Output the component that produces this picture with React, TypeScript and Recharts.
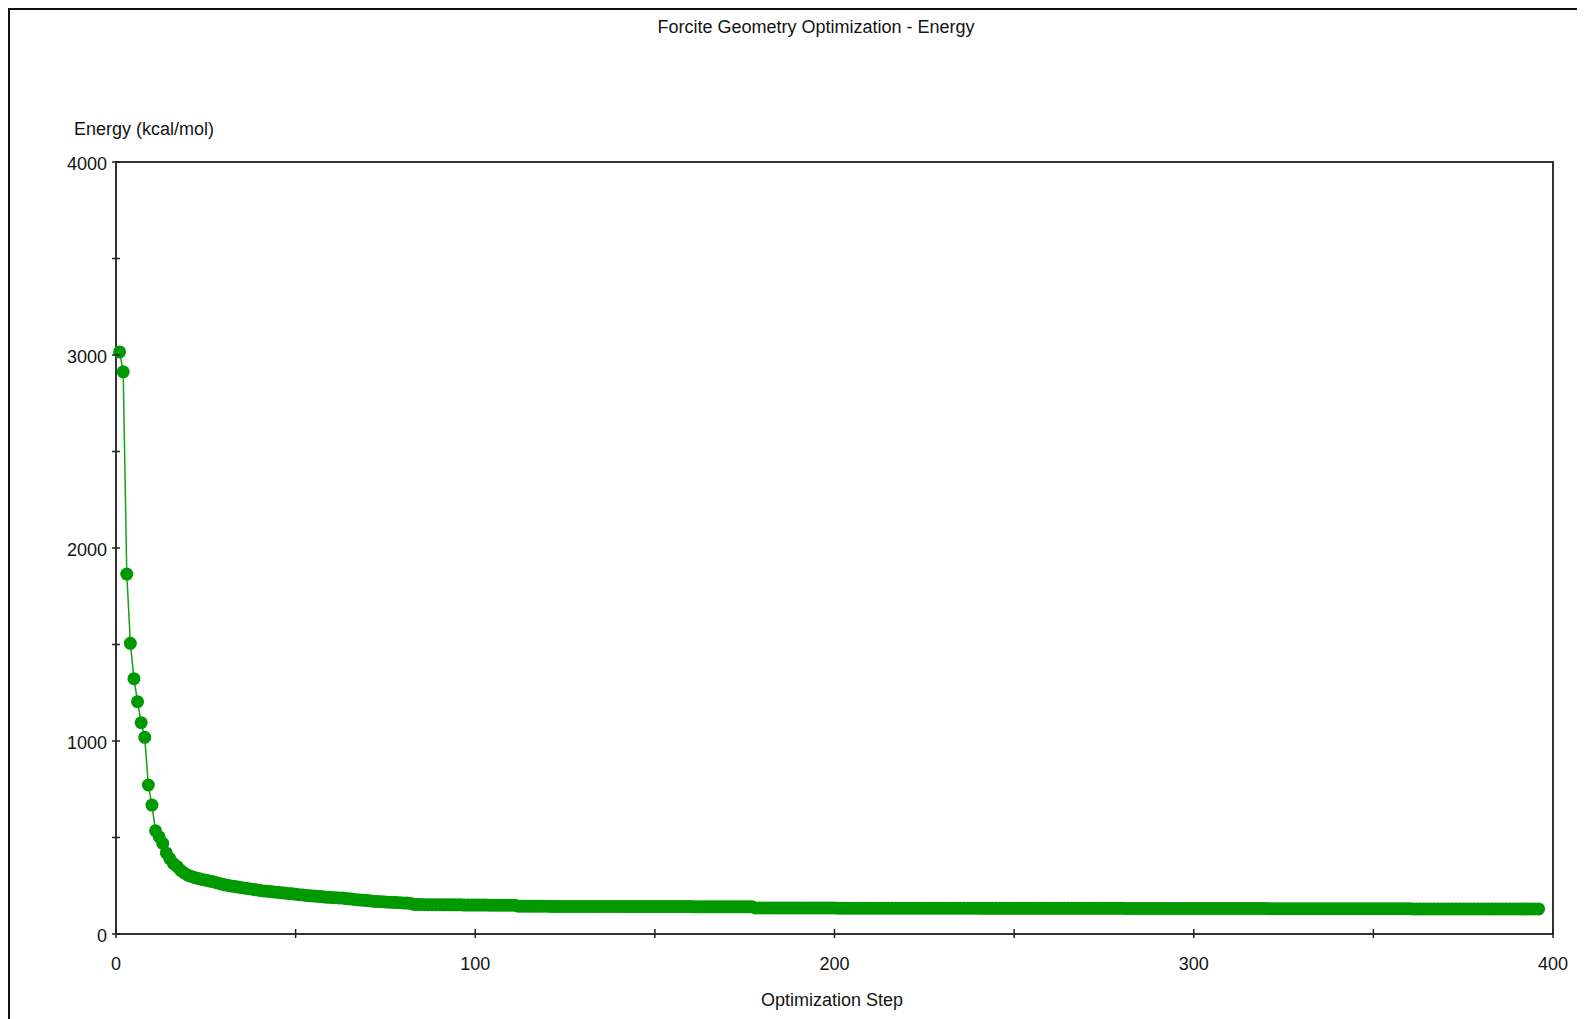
import React from 'react';
import { LineChart, Line, XAxis, YAxis, ReferenceArea } from 'recharts';

// energy per optimization step, steps start at 1
const energy = [
  3016, 2913, 1865, 1506, 1323, 1204, 1095, 1019, 772, 668, 535, 504, 470, 420, 390, 365, 350, 330, 316, 305,
  298, 292, 287, 283, 279, 275, 271, 266, 261, 256, 252, 249, 246, 243, 240, 237, 235, 232, 229, 226,
  223, 222, 220, 218, 216, 214, 212, 210, 208, 206, 204, 202, 200, 198, 197, 195, 194, 192, 190, 189,
  188, 187, 186, 184, 182, 180, 178, 176, 175, 173, 171, 169, 168, 167, 166, 165, 164, 163, 162, 161,
  160, 158, 153, 153, 153, 152, 152, 152, 152, 152, 151, 151, 151, 151, 151, 151, 150, 150, 150, 150,
  150, 150, 150, 149, 149, 149, 149, 149, 149, 149, 149, 144, 144, 144, 144, 144, 144, 144, 144, 144,
  143, 143, 143, 143, 143, 143, 143, 143, 143, 143, 143, 143, 143, 143, 143, 143, 143, 143, 143, 143,
  142, 142, 142, 142, 142, 142, 142, 142, 142, 142, 142, 142, 142, 142, 142, 142, 142, 142, 142, 142,
  141, 141, 141, 141, 141, 141, 141, 141, 141, 141, 141, 141, 141, 141, 141, 141, 141, 135, 135, 135,
  135, 135, 135, 135, 135, 135, 135, 135, 135, 135, 135, 135, 135, 135, 135, 135, 135, 135, 135, 135,
  134, 134, 134, 134, 134, 134, 134, 134, 134, 134, 134, 134, 134, 134, 134, 134, 134, 134, 134, 134,
  134, 134, 134, 134, 134, 134, 134, 134, 134, 134, 134, 134, 134, 134, 134, 134, 134, 134, 134, 134,
  133, 133, 133, 133, 133, 133, 133, 133, 133, 133, 133, 133, 133, 133, 133, 133, 133, 133, 133, 133,
  133, 133, 133, 133, 133, 133, 133, 133, 133, 133, 133, 133, 133, 133, 133, 133, 133, 133, 133, 133,
  132, 132, 132, 132, 132, 132, 132, 132, 132, 132, 132, 132, 132, 132, 132, 132, 132, 132, 132, 132,
  132, 132, 132, 132, 132, 132, 132, 132, 132, 132, 132, 132, 132, 132, 132, 132, 132, 132, 132, 132,
  131, 131, 131, 131, 131, 131, 131, 131, 131, 131, 131, 131, 131, 131, 131, 131, 131, 131, 131, 131,
  131, 131, 131, 131, 131, 131, 131, 131, 131, 131, 131, 131, 131, 131, 131, 131, 131, 131, 131, 131,
  130, 130, 130, 130, 130, 130, 130, 130, 130, 130, 130, 130, 130, 130, 130, 130, 130, 130, 130, 130,
  130, 130, 130, 130, 130, 130, 130, 130, 130, 130, 130, 130, 130, 130, 130, 130,
];

const xTicks = [0, 50, 100, 150, 200, 250, 300, 350, 400];
const xLabelled = [0, 100, 200, 300, 400];
const yTicks = [0, 500, 1000, 1500, 2000, 2500, 3000, 3500, 4000];
const yLabelled = [0, 1000, 2000, 3000, 4000];

const data = energy.map((e, i) => ({ step: i + 1, energy: e }));

const W = 1577;
const H = 1011;
const FONT = '"Liberation Sans", Arial, sans-serif';
const INK = '#141414';
const GREEN = '#009900';

function YTick(props: any) {
  const { x, y, payload } = props;
  return (
    <g>
      <line x1={x - 4} x2={x + 4} y1={y} y2={y} stroke="#222" strokeWidth={1.5} />
      {yLabelled.includes(payload.value) && (
        <text x={x - 9} y={y + 8} textAnchor="end" fontFamily={FONT} fontSize={18} fill={INK}>
          {payload.value}
        </text>
      )}
    </g>
  );
}

function XTick(props: any) {
  const { x, y, payload } = props;
  return (
    <g>
      <line x1={x} x2={x} y1={y - 5} y2={y + 4} stroke="#222" strokeWidth={1.5} />
      {xLabelled.includes(payload.value) && (
        <text x={x} y={y + 36} textAnchor="middle" fontFamily={FONT} fontSize={18} fill={INK}>
          {payload.value}
        </text>
      )}
    </g>
  );
}

export default function App() {
  return (
    <div style={{ position: 'relative', width: W, height: H, overflow: 'hidden', background: '#fff' }}>
      <div style={{ position: 'absolute', left: 0, top: 0 }}>
        <LineChart
          width={W}
          height={H}
          data={data}
          margin={{ top: 154, right: 32, bottom: 55, left: 48 }}
        >
          <XAxis
            type="number"
            dataKey="step"
            domain={[0, 400]}
            ticks={xTicks}
            interval={0}
            height={30}
            axisLine={false}
            tickLine={false}
            tickSize={0}
            tickMargin={0}
            tick={<XTick />}
          />
          <YAxis
            type="number"
            domain={[0, 4000]}
            ticks={yTicks}
            interval={0}
            width={60}
            axisLine={false}
            tickLine={false}
            tickSize={0}
            tickMargin={0}
            tick={<YTick />}
          />
          <ReferenceArea x1={0} x2={400} y1={0} y2={4000} fill="none" stroke="#333" strokeWidth={2} />
          <Line
            type="linear"
            dataKey="energy"
            stroke="#12a312"
            strokeWidth={1.5}
            dot={{ r: 6.5, fill: GREEN, stroke: 'none' }}
            activeDot={false}
            isAnimationActive={false}
          />
        </LineChart>
      </div>
      <svg
        width={W}
        height={H}
        style={{ position: 'absolute', left: 0, top: 0, pointerEvents: 'none' }}
      >
        <text x={808} y={25} textAnchor="middle" fontFamily={FONT} fontSize={18} fill={INK}>
          Forcite Geometry Optimization - Energy
        </text>
        <text x={66} y={127} fontFamily={FONT} fontSize={18} fill={INK}>
          Energy (kcal/mol)
        </text>
        <text x={824} y={998} textAnchor="middle" fontFamily={FONT} fontSize={18} fill={INK}>
          Optimization Step
        </text>
      </svg>
      <div
        style={{
          position: 'absolute',
          left: 0,
          top: 0,
          right: 0,
          bottom: 0,
          borderTop: '2px solid #111',
          borderLeft: '2px solid #111',
        }}
      />
    </div>
  );
}
